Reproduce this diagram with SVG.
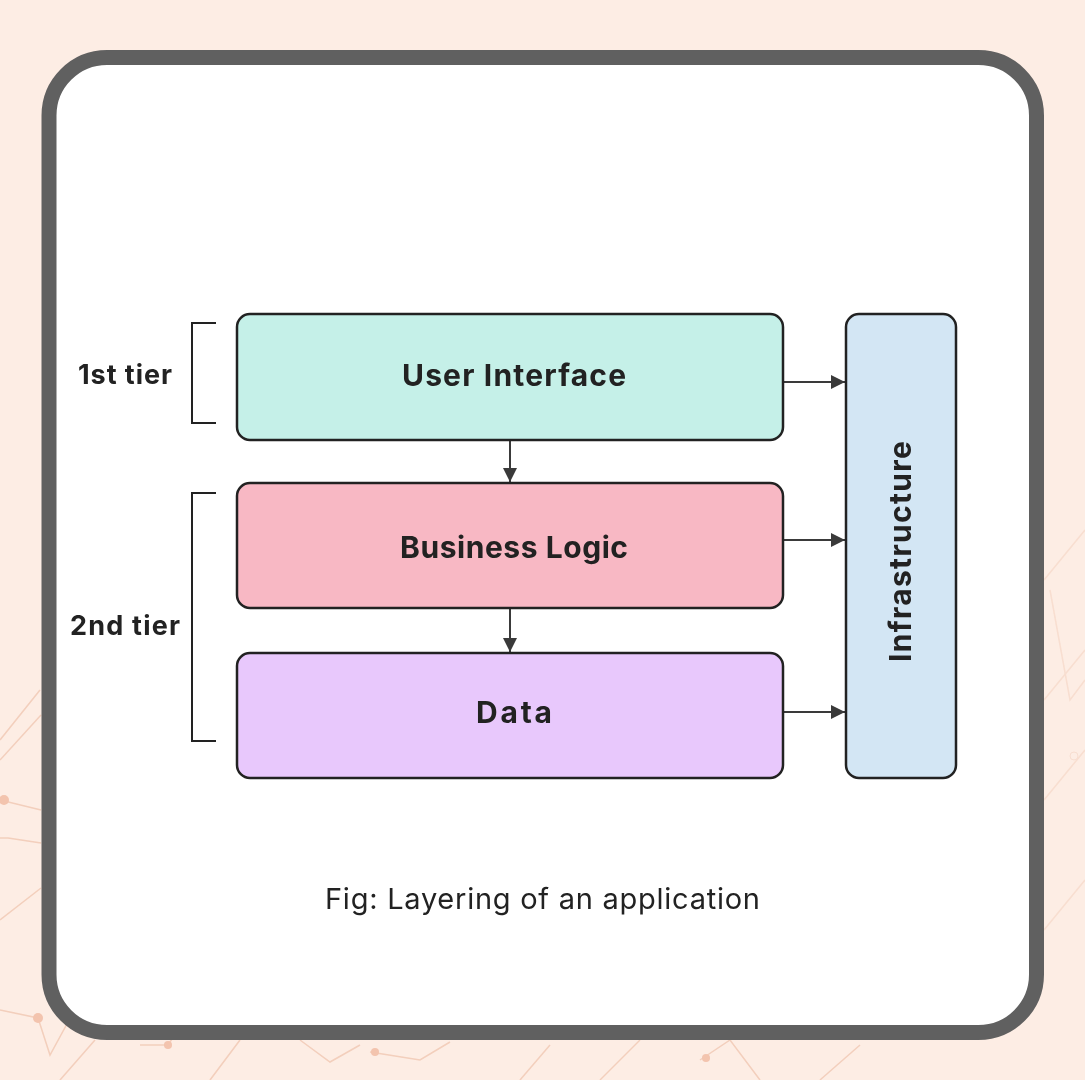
<svg xmlns="http://www.w3.org/2000/svg" width="1085" height="1080" viewBox="0 0 1085 1080">
<defs>
<marker id="arr" viewBox="0 0 14 14" refX="14" refY="7" markerWidth="14" markerHeight="14" markerUnits="userSpaceOnUse" orient="auto">
<path d="M0,0 L14,7 L0,14 Z" fill="#3a3a3a"/>
</marker>
<style>
.box{stroke:#222;stroke-width:2.5}
.lbl{font-family:Inter,"Liberation Sans",sans-serif;font-weight:700;font-size:30px;fill:#222;text-anchor:middle;dominant-baseline:central}
.tier{font-family:Inter,"Liberation Sans",sans-serif;font-weight:700;font-size:27px;fill:#222;text-anchor:middle;dominant-baseline:central}
.conn{stroke:#3a3a3a;stroke-width:2;fill:none}
.brk{stroke:#222;stroke-width:2;fill:none}
.deco{stroke:#f0c7b2;stroke-width:1.5;fill:none}
.dot{fill:#f0b9a0}
</style>
</defs>
<rect width="1085" height="1080" fill="#fdede4"/>
<g id="background-pattern" opacity="0.8">
<path class="deco" d="M0,740 L40,690"/>
<path class="deco" d="M0,760 L41,715"/>
<path class="deco" d="M0,800 L41,810"/>
<path class="deco" d="M0,838 L8,838 L41,843"/>
<path class="deco" d="M0,920 L41,888"/>
<path class="deco" d="M0,1010 L38,1018 L50,1055 L80,1000"/>
<path class="deco" d="M60,1080 L95,1040"/>
<path class="deco" d="M140,1045 L168,1045 L198,1000"/>
<path class="deco" d="M210,1080 L240,1040"/>
<path class="deco" d="M300,1040 L330,1062 L360,1045"/>
<path class="deco" d="M370,1052 L420,1060 L450,1042"/>
<path class="deco" d="M520,1080 L550,1045"/>
<path class="deco" d="M600,1080 L640,1040"/>
<path class="deco" d="M700,1060 L730,1040 L760,1080"/>
<path class="deco" d="M820,1080 L860,1045"/>
<circle class="dot" cx="4" cy="800" r="5"/>
<circle class="dot" cx="38" cy="1018" r="5"/>
<circle class="dot" cx="168" cy="1045" r="4"/>
<circle class="dot" cx="375" cy="1052" r="4"/>
<circle class="dot" cx="706" cy="1058" r="4"/>
<g opacity="0.5">
<path class="deco" d="M1044,580 L1085,530"/>
<path class="deco" d="M1044,700 L1085,650"/>
<path class="deco" d="M1050,590 L1070,700 L1085,680"/>
<path class="deco" d="M1044,800 L1085,750"/>
<path class="deco" d="M1044,930 L1085,880"/>
<circle cx="1074" cy="756" r="4" fill="none" stroke="#f0c7b2"/>
</g>
</g>
<rect id="frame" x="49" y="57.5" width="987.5" height="975" rx="58" fill="#fff" stroke="#606060" stroke-width="15"/>
<g id="connectors">
<line class="conn" x1="510" y1="440" x2="510" y2="482" marker-end="url(#arr)"/>
<line class="conn" x1="510" y1="608" x2="510" y2="652" marker-end="url(#arr)"/>
<line class="conn" x1="783" y1="382" x2="845" y2="382" marker-end="url(#arr)"/>
<line class="conn" x1="783" y1="540" x2="845" y2="540" marker-end="url(#arr)"/>
<line class="conn" x1="783" y1="712" x2="845" y2="712" marker-end="url(#arr)"/>
</g>
<g id="tier1">
<path class="brk" d="M216,323 L192,323 L192,423 L216,423"/>
<text class="tier" x="125" y="374" textLength="94" lengthAdjust="spacing">1st tier</text>
</g>
<g id="tier2">
<path class="brk" d="M216,493 L192,493 L192,741 L216,741"/>
<text class="tier" x="125" y="625" textLength="110" lengthAdjust="spacing">2nd tier</text>
</g>
<g id="user-interface">
<rect class="box" x="237" y="314" width="546" height="126" rx="13" fill="#c5f0e8"/>
<text class="lbl" x="514" y="375" textLength="224" lengthAdjust="spacing">User Interface</text>
</g>
<g id="business-logic">
<rect class="box" x="237" y="483" width="546" height="125" rx="13" fill="#f8b8c4"/>
<text class="lbl" x="514" y="547" textLength="228" lengthAdjust="spacing">Business Logic</text>
</g>
<g id="data">
<rect class="box" x="237" y="653" width="546" height="125" rx="13" fill="#e8c8fc"/>
<text class="lbl" x="514" y="712" textLength="76" lengthAdjust="spacing">Data</text>
</g>
<g id="infrastructure">
<rect class="box" x="846" y="314" width="110" height="464" rx="13" fill="#d3e6f4"/>
<text class="lbl" x="0" y="0" transform="translate(900,551.5) rotate(-90)" textLength="221" lengthAdjust="spacing">Infrastructure</text>
</g>
<text id="caption" x="542.5" y="898" font-family="Inter,'Liberation Sans',sans-serif" font-size="29" fill="#222" text-anchor="middle" dominant-baseline="central" textLength="435" lengthAdjust="spacing">Fig: Layering of an application</text>
</svg>
